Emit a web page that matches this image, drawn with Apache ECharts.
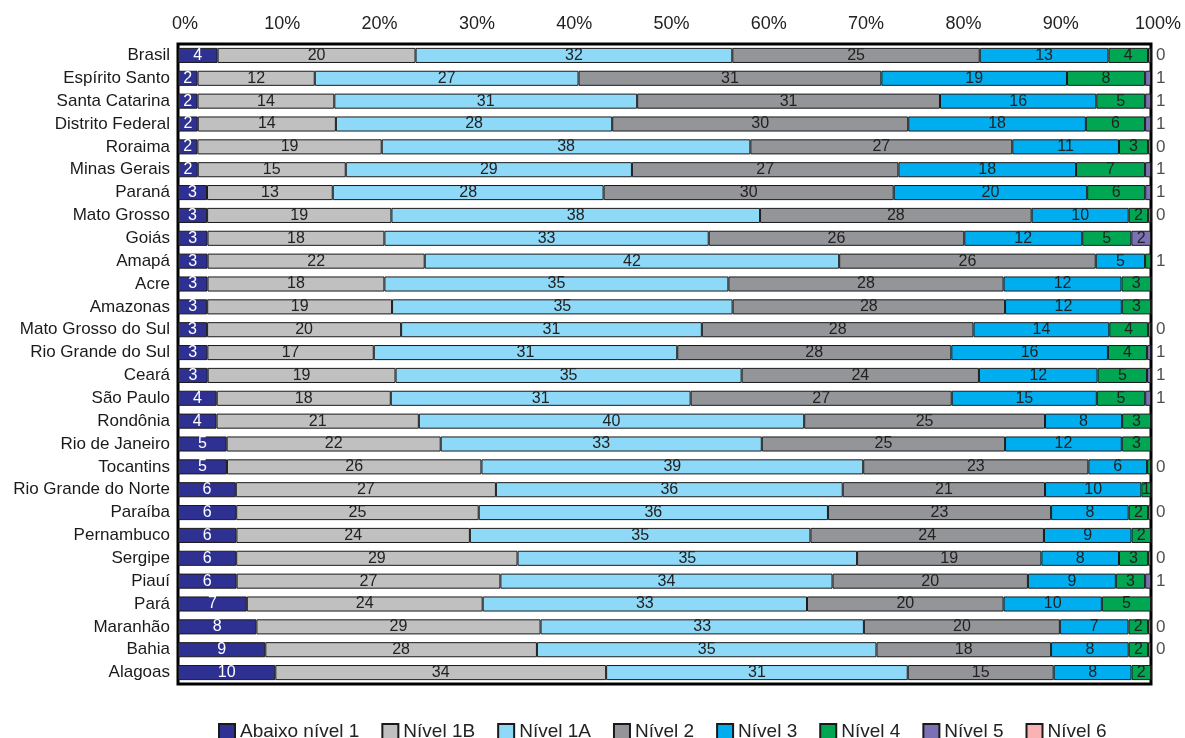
<!DOCTYPE html>
<html><head><meta charset="utf-8">
<script src="https://cdn.jsdelivr.net/npm/echarts@6/dist/echarts.min.js"></script>
<style>html,body{margin:0;padding:0;background:#fff}#c{width:1185px;height:738px}</style>
</head><body><div id="c"></div>
<script>
// Categorias (de cima para baixo)
const estados = ['Brasil','Espírito Santo','Santa Catarina','Distrito Federal','Roraima','Minas Gerais','Paraná','Mato Grosso','Goiás','Amapá','Acre','Amazonas','Mato Grosso do Sul','Rio Grande do Sul','Ceará','São Paulo','Rondônia','Rio de Janeiro','Tocantins','Rio Grande do Norte','Paraíba','Pernambuco','Sergipe','Piauí','Pará','Maranhão','Bahia','Alagoas'];
const niveis = ['Abaixo nível 1','Nível 1B','Nível 1A','Nível 2','Nível 3','Nível 4','Nível 5','Nível 6'];
// Percentuais por nível (fatias finas estimadas)
const abaixo1 = [4,2,2,2,2,2,3,3,3,3,3,3,3,3,3,4,4,5,5,6,6,6,6,6,7,8,9,10];
const nivel1B = [20,12,14,14,19,15,13,19,18,22,18,19,20,17,19,18,21,22,26,27,25,24,29,27,24,29,28,34];
const nivel1A = [32,27,31,28,38,29,28,38,33,42,35,35,31,31,35,31,40,33,39,36,36,35,35,34,33,33,35,31];
const nivel2  = [25,31,31,30,27,27,30,28,26,26,28,28,28,28,24,27,25,25,23,21,23,24,19,20,20,20,18,15];
const nivel3  = [13,19,16,18,11,18,20,10,12,5,12,12,14,16,12,15,8,12,6,10,8,9,8,9,10,7,8,8];
const nivel4  = [4,8,5,6,3,7,6,2,5,0.6,3,3,4,4,5,5,3,3,0.4,1,2,2,3,3,5,2,2,2];
const nivel5  = [0.3,0.6,0.6,0.6,0.3,0.6,0.6,0.3,2,0,0,0,0.3,0.4,0.4,0.6,0,0,0,0,0.3,0,0.3,0.6,0,0.3,0.3,0];
const nivel6  = [0,0,0,0,0,0,0,0,0,0,0,0,0,0,0,0,0,0,0,0,0,0,0,0,0,0,0,0];
// Rótulos exibidos à direita das barras
const rotuloDireita = ['0','1','1','1','0','1','1','0','','1','','','0','1','1','1','','','0','','0','','0','1','','0','0',''];
const ticksX = [0,10,20,30,40,50,60,70,80,90,100];

const series_vals = [abaixo1,nivel1B,nivel1A,nivel2,nivel3,nivel4,nivel5,nivel6];
const cores = ['#2E3192','#C0C0C0','#8ED8F8','#939598','#00AEEF','#00A651','#7B72B6','#F9B3B3'];
const FONT = "'Liberation Sans', Arial, sans-serif";

const totais = estados.map((_, i) => series_vals.reduce((s, arr) => s + arr[i], 0));

const series = series_vals.map((arr, k) => ({
  name: niveis[k],
  type: 'bar',
  stack: 'total',
  barCategoryGap: '34%',
  data: arr.map((v, i) => v / totais[i] * 100),
  itemStyle: { color: cores[k], borderColor: '#1a1a1a', borderWidth: 1 },
  emphasis: { disabled: true },
  label: {
    show: k < 7, position: 'inside',
    fontFamily: FONT, fontSize: 16,
    color: k === 0 ? '#fff' : '#222',
    formatter: p => {
      const raw = arr[p.dataIndex];
      if (k === 6) return raw >= 2 ? String(Math.round(raw)) : '';
      return raw >= 1 ? String(Math.round(raw)) : '';
    }
  }
}));

series.push({
  name: 'rotulos',
  type: 'scatter',
  symbolSize: 0,
  clip: false,
  silent: true,
  data: estados.map((e, i) => [ticksX[ticksX.length - 1], i]),
  label: {
    show: true, position: 'right', distance: 5,
    fontFamily: FONT, fontSize: 17, color: '#222',
    formatter: p => rotuloDireita[p.dataIndex]
  },
  z: 10
});

const chart = echarts.init(document.getElementById('c'), null, { renderer: 'canvas' });
chart.setOption({
  animation: false,
  backgroundColor: '#fff',
  grid: { left: 178, right: 34, top: 44, bottom: 54, show: true, borderColor: '#000', borderWidth: 3, backgroundColor: '#fff' },
  xAxis: {
    type: 'value', position: 'top', min: ticksX[0], max: ticksX[ticksX.length - 1], interval: 10,
    axisLine: { show: false }, axisTick: { show: false }, splitLine: { show: false },
    axisLabel: { formatter: '{value}%', fontFamily: FONT, fontSize: 18, color: '#222', margin: 11, padding: [0, 0, 0, 14] }
  },
  yAxis: {
    type: 'category', inverse: true, data: estados,
    axisLine: { show: false }, axisTick: { show: false },
    axisLabel: { fontFamily: FONT, fontSize: 17, color: '#1a1a1a', margin: 8 }
  },
  legend: {
    data: niveis, top: 717, left: 213, itemWidth: 16, itemHeight: 15, itemGap: 22,
    icon: 'rect', textStyle: { fontFamily: FONT, fontSize: 19, color: '#222' },
    selectedMode: false
  },
  series
});
</script></body></html>
